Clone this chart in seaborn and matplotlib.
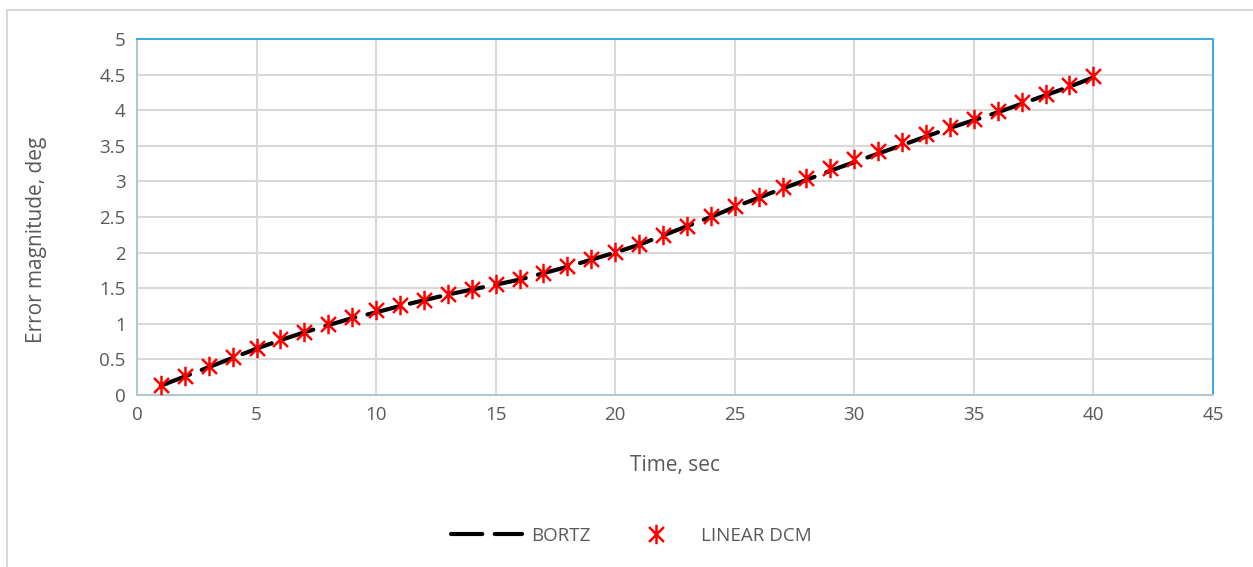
import numpy as np
import pandas as pd
import matplotlib.pyplot as plt
import seaborn as sns
from matplotlib.path import Path
from matplotlib.patches import Rectangle

# Data
time_sec = list(range(1, 41))
linear_dcm = [0.14, 0.27, 0.40, 0.54, 0.66, 0.78, 0.89, 1.00, 1.10, 1.19,
              1.27, 1.34, 1.42, 1.49, 1.56, 1.63, 1.72, 1.81, 1.91, 2.01,
              2.12, 2.25, 2.38, 2.51, 2.65, 2.78, 2.92, 3.05, 3.19, 3.31,
              3.43, 3.55, 3.66, 3.77, 3.88, 3.99, 4.11, 4.23, 4.35, 4.48]
bortz = [0.13, 0.26, 0.39, 0.52, 0.65, 0.77, 0.88, 0.98, 1.08, 1.16,
         1.25, 1.33, 1.41, 1.48, 1.55, 1.62, 1.71, 1.80, 1.90, 2.00,
         2.11, 2.24, 2.37, 2.50, 2.64, 2.77, 2.90, 3.02, 3.15, 3.27,
         3.39, 3.51, 3.63, 3.75, 3.86, 3.97, 4.09, 4.21, 4.33, 4.46]

df = pd.DataFrame({"Time": time_sec, "BORTZ": bortz, "LINEAR DCM": linear_dcm})

sns.set_theme(style="white")
plt.rcParams['font.family'] = ['Open Sans', 'DejaVu Sans']

# star marker like Excel: X plus vertical bar
star = Path([(-1, -1), (1, 1), (-1, 1), (1, -1), (0, -1.3), (0, 1.3)],
            [Path.MOVETO, Path.LINETO, Path.MOVETO, Path.LINETO, Path.MOVETO, Path.LINETO])

fig = plt.figure(figsize=(12.53, 5.67), dpi=100)
ax = fig.add_axes([0.1093, 0.3034, 0.8587, 0.6278])

# outer chart frame (left/top only visible)
fig.patches.append(Rectangle((0.0056, -0.1), 1.2, 1.0824, transform=fig.transFigure,
                             fill=False, edgecolor='#D9D9D9', linewidth=1.5))

sns.lineplot(data=df, x="Time", y="BORTZ", ax=ax, color='black', linewidth=3,
             label="BORTZ", zorder=3)
bl = ax.lines[-1]
bl.set_dashes([7.5, 3])
bl.set_dash_capstyle('round')
ax.plot(df["Time"], df["LINEAR DCM"], linestyle='none', marker=star, markersize=14,
        markeredgecolor='red', markerfacecolor='none', markeredgewidth=1.8,
        label="LINEAR DCM", zorder=4)

ax.set_xlim(0, 45)
ax.set_ylim(0, 5)
ax.set_xticks(np.arange(0, 46, 5))
ax.set_yticks(np.arange(0, 5.01, 0.5))
ax.set_yticklabels(["0", "0.5", "1", "1.5", "2", "2.5", "3", "3.5", "4", "4.5", "5"])
ax.grid(True, color='#D9D9D9', linewidth=1.5)
ax.set_axisbelow(True)
ax.tick_params(axis='both', length=0, labelsize=13.5, labelcolor='#595959', pad=8)

for side in ['left', 'bottom']:
    ax.spines[side].set_color('#B4C7CF')
    ax.spines[side].set_linestyle((0, (3, 1)))
    ax.spines[side].set_linewidth(1.5)
for side in ['top', 'right']:
    ax.spines[side].set_color('#29A8E0')
    ax.spines[side].set_linestyle((0, (3, 1)))
    ax.spines[side].set_linewidth(1.3)

ax.set_xlabel("Time, sec", fontsize=15, color='#595959', labelpad=22)
ax.set_ylabel("Error magnitude, deg", fontsize=15, color='#595959')
ax.yaxis.set_label_coords(-0.084, 0.435)

ax.legend(loc='center', bbox_to_anchor=(0.504, 0.055), bbox_transform=fig.transFigure,
          ncol=2, frameon=False, fontsize=13.5, labelcolor='#595959',
          handlelength=3.8, columnspacing=1.6, handletextpad=0.5)

fig.savefig("out.png", dpi=100)
